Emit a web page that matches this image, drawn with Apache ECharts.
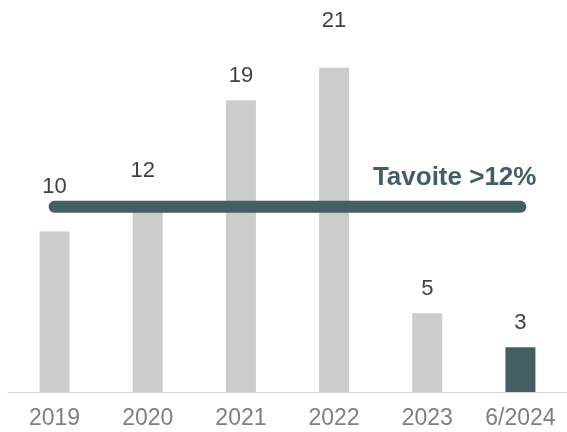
<!DOCTYPE html>
<html>
<head>
<meta charset="utf-8">
<script src="https://cdn.jsdelivr.net/npm/echarts@6/dist/echarts.min.js"></script>
<style>
  html, body { margin: 0; padding: 0; background: #fff; }
  #chart { width: 567px; height: 432px; }
</style>
</head>
<body>
<div id="chart"></div>
<script>
const categories = ['2019', '2020', '2021', '2022', '2023', '6/2024']
const values = [10.4, 12.1, 18.9, 21, 5.1, 2.9]
const targetValue = 12
const targetText = 'Tavoite >12%'

// label nudges so they clear the target line
const labelShift = [[0, -20], [-5, -10], [0, 0], [0, -23], [0, 0], [0, 0]]

const font = '"Liberation Sans", Arial, sans-serif'
const teal = '#435f63'

const chart = echarts.init(document.getElementById('chart'))

chart.setOption({
  animation: false,
  grid: { left: 8, width: 561, top: 6, bottom: 40 },
  xAxis: {
    type: 'category',
    data: categories,
    axisLine: { lineStyle: { color: '#d9d9d9', width: 1 } },
    axisTick: { show: false },
    axisLabel: { color: '#7f7f7f', fontSize: 23, fontFamily: font, margin: 15 },
  },
  yAxis: {
    type: 'value',
    min: 0,
    max: 25,
    show: false,
    splitLine: { show: false },
  },
  series: [
    {
      type: 'bar',
      barWidth: 30,
      data: values.map((v, i) => ({
        value: v,
        itemStyle: { color: i === values.length - 1 ? teal : '#cccccc' },
        label: { offset: labelShift[i] },
      })),
      label: {
        show: true,
        position: 'top',
        distance: 13,
        color: '#404040',
        fontSize: 22,
        fontFamily: font,
        formatter: p => Math.round(p.value),
      },
      z: 2,
    },
    {
      type: 'line',
      data: categories.map(() => targetValue),
      symbol: 'none',
      lineStyle: { color: teal, width: 12, cap: 'round' },
      endLabel: {
        show: true,
        distance: 0,
        align: 'right',
        verticalAlign: 'middle',
        offset: [16, -29],
        color: teal,
        fontSize: 26,
        fontWeight: 'bold',
        fontFamily: font,
        formatter: () => targetText,
      },
      z: 3,
    },
  ],
})
</script>
</body>
</html>
